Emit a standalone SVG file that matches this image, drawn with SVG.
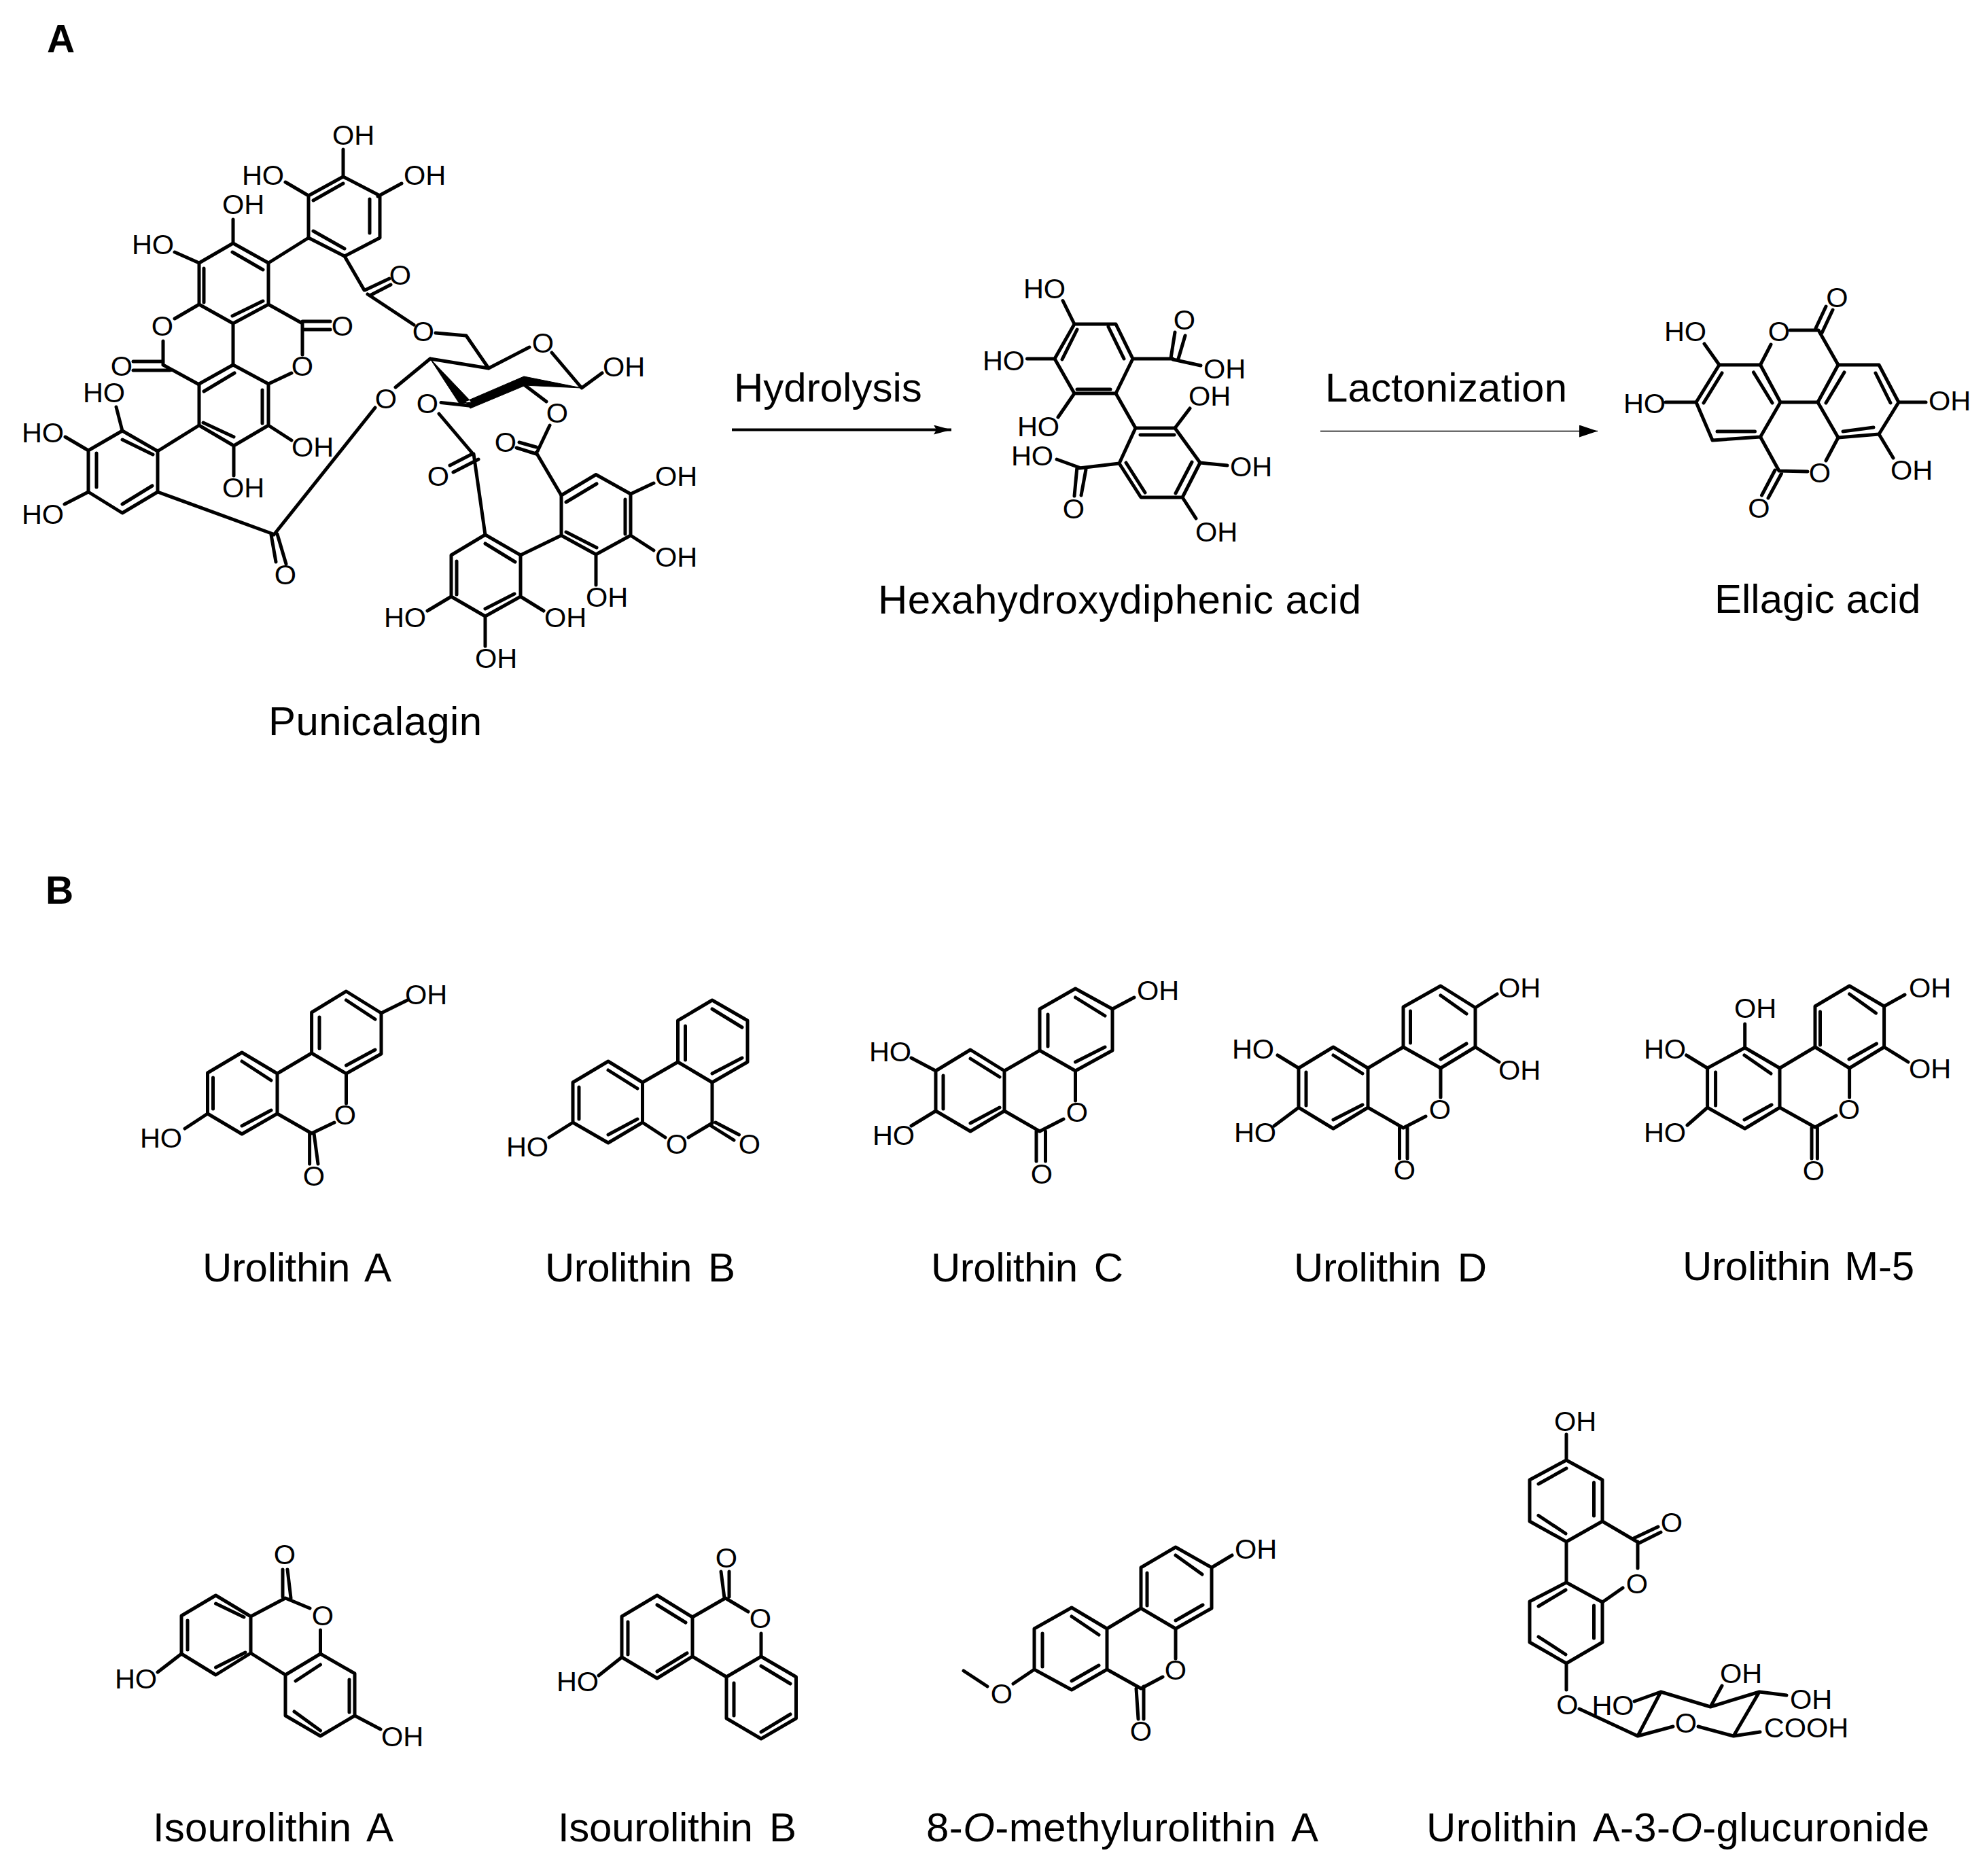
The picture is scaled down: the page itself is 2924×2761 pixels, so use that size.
<svg xmlns="http://www.w3.org/2000/svg" width="2924" height="2761" viewBox="0 0 2924 2761">
<style>
.b{fill:none;stroke:#000;stroke-width:5;stroke-linecap:round;stroke-linejoin:round}
.w{fill:#000;stroke:#000;stroke-width:1;stroke-linejoin:round}
.a{font:41.500px "Liberation Sans",Arial,sans-serif;text-anchor:middle;fill:#000}
.t{font:60px "Liberation Sans",Arial,sans-serif;fill:#000}
.s{word-spacing:8px}
.p{font:bold 57px "Liberation Sans",Arial,sans-serif;fill:#000}
.c{fill:none;stroke:#000}
</style>
<defs>
<marker id="h1" markerUnits="userSpaceOnUse" markerWidth="30" markerHeight="20" refX="26" refY="7" orient="auto"><path d="M0 0L26 7L0 14L4 7Z" fill="#000"/></marker>
<marker id="h2" markerUnits="userSpaceOnUse" markerWidth="30" markerHeight="20" refX="27" refY="9" orient="auto"><path d="M0 0L27 9L0 18Z" fill="#000"/></marker>
</defs>
<rect width="2924" height="2761" fill="#fff"/>
<text class="p" x="69" y="77">A</text>
<text class="p" x="67" y="1330">B</text>

<g id="connectors">
<path class="c" stroke-width="4" d="M1077 632.500H1400" marker-end="url(#h1)"/>
<path class="c" stroke-width="1.500" d="M1943 634.500H2351" marker-end="url(#h2)"/>
</g>
<text class="t" x="1080" y="591" id="label-hydrolysis">Hydrolysis</text>
<text class="t" x="1950" y="591" textLength="356" id="label-lactonization">Lactonization</text>

<g id="punicalagin">
<path class="b" d="M505 260L454 288L454 350L507 377L559 350L559 288ZM461 295L505 270M544 293L544 343M461 340L507 366M505 220L505 260M420 268L454 288M556 289L591 270"/>
<path class="b" d="M343 358L293 387L293 448L343 476L395 448L395 387ZM342 371L387 397M300 395L300 445M342 465L387 443M395 387L454 350M343 323L343 358M257 371L293 387M293 448L257 469M240 502L240 537M196 532L239 532M196 545L250 545M240 537L293 566M395 448L445 476M445 473L486 473M446 485L486 485M445 476L445 522M343 476L343 537"/>
<path class="b" d="M343 537L293 565L293 626L344 656L395 626L395 565ZM300 576L345 549M386 574L386 623M299 622L344 643M395 565L429 549M395 626L429 648M344 656L344 700"/>
<path class="b" d="M180 634L130 663L130 724L180 755L232 724L232 664ZM180 647L225 669M142 667L142 717M180 742L224 715M232 664L293 626M171 599L180 634M96 643L130 663M95 742L130 724M232 724L402 786M399 787L406 827M408 786L421 830M403 787L552 600"/>
<path class="b" d="M507 377L536 427M537 427L573 410M546 434L575 419M541 433L609 478M641 490L686 494L719 542M633 528L719 542L779 511M812 519L856 571L886 549M633 528L582 570M649 592.500L690 597M646 609L696 668M662 685L695 668M667 695L704 676M697 668L714 787M771 566L804 591M809 626L791 664M764 651L789 658M760 659L789 668M789 666L826 729"/>
<path class="w" d="M856 571L771 554L771 567ZM633 528L676 594L694 592ZM771 554L771 568L692 601L685 591Z"/>
<path class="b" d="M826 729L877 698.500L928 727L928 788L877 816L826 788ZM833 739L878 712M920 735L920 786M833 783L878 806M928 727L962 711M928 788L962 810M877 816L877 861M826 788L766 817"/>
<path class="b" d="M714 787L766 817L766 878L714 907L664 878L664 817ZM714 800L758 827M757 874L714 896M672 826L672 875M766 878L800 899M714 907L714 951M664 878L629 899"/>
<g>
<text class="a" x="520" y="213">OH</text><text class="a" x="387" y="272">HO</text><text class="a" x="625" y="272">OH</text>
<text class="a" x="358" y="315">OH</text><text class="a" x="225" y="374">HO</text><text class="a" x="239" y="494">O</text>
<text class="a" x="179" y="553">O</text><text class="a" x="504" y="494">O</text><text class="a" x="445" y="553">O</text>
<text class="a" x="460" y="672">OH</text><text class="a" x="358" y="732">OH</text><text class="a" x="153" y="592">HO</text>
<text class="a" x="63" y="651">HO</text><text class="a" x="63" y="771">HO</text><text class="a" x="420" y="860">O</text>
<text class="a" x="568" y="601">O</text><text class="a" x="589" y="419">O</text><text class="a" x="623" y="502">O</text>
<text class="a" x="799" y="519">O</text><text class="a" x="918" y="554">OH</text><text class="a" x="629" y="608">O</text>
<text class="a" x="645" y="715">O</text><text class="a" x="820" y="622">O</text><text class="a" x="744" y="665">O</text>
<text class="a" x="995" y="715">OH</text><text class="a" x="995" y="834">OH</text><text class="a" x="893" y="893">OH</text>
<text class="a" x="832" y="923">OH</text><text class="a" x="730" y="983">OH</text><text class="a" x="596" y="923">HO</text>
</g>
<text class="t" x="395" y="1082" textLength="314">Punicalagin</text>
</g>

<g id="hexahydroxydiphenic-acid">
<path class="b" d="M1581 477L1642 477L1667 528L1642 579L1581 579L1552 528ZM1631 481L1654 528M1585 485L1563 529M1585 573L1634 573M1564 442.500L1581 477M1511.500 528L1552 528M1581 579L1557 614M1667 528L1726 528M1723 527L1729 489M1734 528L1744 494M1726 529L1767 538M1642 579L1671 630"/>
<path class="b" d="M1671 630L1729 630L1766 681L1740 732L1679 732L1647 682ZM1678 640L1728 640M1754 680L1730 726M1657 681L1685 725M1729 630L1751 601M1766 681L1806 685M1740 732L1760 763M1647 682L1588 689M1555 676L1588 688M1585 687L1581 730M1598 691L1591 729"/>
<text class="a" x="1537" y="439">HO</text><text class="a" x="1477" y="545">HO</text><text class="a" x="1528" y="642">HO</text>
<text class="a" x="1743" y="485">O</text><text class="a" x="1802" y="557">OH</text><text class="a" x="1780" y="597">OH</text>
<text class="a" x="1841" y="701">OH</text><text class="a" x="1790" y="797">OH</text><text class="a" x="1519" y="685">HO</text><text class="a" x="1580" y="763">O</text>
<text class="t" x="1292" y="903" textLength="711">Hexahydroxydiphenic acid</text>
</g>

<g id="ellagic-acid">
<path class="b" d="M2530 537L2590.500 537L2620 592L2590.500 643L2520 648L2496 592ZM2580.500 548L2608 593M2534 549L2507 593M2527 635L2582.500 635M2620 592L2675 592"/>
<path class="b" d="M2705 537L2765 537L2794 592L2765 639L2705 644L2675 592ZM2714 548L2687 593M2760 549L2782 593M2712 635L2757 629"/>
<path class="b" d="M2590.500 537L2606 507M2634 486L2676 486L2705 537M2672 483L2687 451M2681 490L2697 456M2590.500 643L2618 693L2660 694M2687 678L2705 644M2612 692L2592.500 729M2621.500 697L2602 733M2530 537L2508 506M2496 592L2451 592M2794 592L2834 592M2765 639L2786 674"/>
<text class="a" x="2618" y="502">O</text><text class="a" x="2703.500" y="452">O</text><text class="a" x="2678" y="710">O</text><text class="a" x="2588.500" y="762">O</text>
<text class="a" x="2480" y="502">HO</text><text class="a" x="2420" y="608">HO</text><text class="a" x="2869" y="604">OH</text><text class="a" x="2813" y="706">OH</text>
<text class="t" x="2523" y="902">Ellagic acid</text>
</g>

<g id="urolithin-a">
<path class="b" d="M509.500 1459L561 1491L561 1551L509.500 1580L458.600 1550L458.600 1490ZM509.500 1472L552 1500M470 1497L470 1543M509.500 1568L552 1545"/>
<path class="b" d="M356 1549L408 1580L408 1639L356 1669L305.500 1639L305.500 1579ZM356 1562L399 1590M313.500 1586L313.500 1632M356 1657L399 1634M408 1580L458.600 1550M408 1639L458.600 1668L492 1652M509.500 1580L509.500 1624M455.600 1668L455.600 1713M462 1668L468 1713M561 1491L599.500 1472M305.500 1639L272 1661"/>
<text class="a" x="508" y="1655">O</text><text class="a" x="462" y="1745">O</text><text class="a" x="627" y="1478">OH</text><text class="a" x="237" y="1689">HO</text>
<text class="t s" x="298" y="1886" textLength="278">Urolithin A</text>
</g>

<g id="urolithin-b">
<path class="b" d="M1048 1472L1100 1502L1100 1563L1048 1593L997.500 1563L997.500 1502ZM1048 1485L1092 1512M1008.500 1510L1008.500 1560M1048 1580L1092 1557"/>
<path class="b" d="M895 1562L945.500 1593L945.500 1652L895 1682L843 1652L843 1593ZM895 1575L938 1602M852 1600L852 1647M895 1670L938 1647M945.500 1593L997.500 1563M945.500 1652L979 1674M1013 1674L1048 1653M1048 1593L1048 1653M1053 1652L1087.500 1670M1046.500 1657L1080 1678M843 1652L808 1674"/>
<text class="a" x="996" y="1698">O</text><text class="a" x="1103" y="1698">O</text><text class="a" x="776" y="1702">HO</text>
<text class="t s" x="802" y="1886" textLength="280">Urolithin B</text>
</g>

<g id="urolithin-c">
<path class="b" d="M1582.500 1455L1637 1485L1637 1546L1582.500 1576L1530 1546L1530 1485ZM1582.500 1468L1626 1495M1542 1493L1542 1540M1582.500 1563L1626 1541"/>
<path class="b" d="M1428 1545L1478 1576L1478 1635L1428 1665L1377 1635L1377 1576ZM1428 1558L1471 1585M1388 1583L1388 1632M1428 1653L1471 1630M1478 1576L1530 1546M1478 1635L1530 1665L1565 1647M1582.500 1576L1582.500 1620M1525 1665L1525 1709M1538.500 1665L1538.500 1709M1637 1485L1669 1468M1377 1576L1341 1557M1377 1635L1341 1657"/>
<text class="a" x="1585" y="1651">O</text><text class="a" x="1533" y="1742">O</text><text class="a" x="1704" y="1472">OH</text><text class="a" x="1310" y="1562">HO</text><text class="a" x="1315" y="1685">HO</text>
<text class="t s" x="1370" y="1886" textLength="283">Urolithin C</text>
</g>

<g id="urolithin-d">
<path class="b" d="M2120 1451L2171 1483L2171 1541L2120 1572L2065 1541L2065 1482ZM2120 1465L2158 1492M2075.500 1488L2075.500 1535M2120 1559L2158 1536"/>
<path class="b" d="M1962 1541L2013 1572L2013 1630L1962 1661L1911 1630L1911 1572ZM1962 1553L2005 1580M1922 1578L1922 1627M1962 1648L2005 1626M2013 1572L2065 1541M2013 1630L2065 1660L2098 1643M2120 1572L2120 1615M2059.500 1660L2059.500 1705M2071 1660L2071 1705M1911 1572L1880 1553M1911 1630L1875 1657M2171 1483L2203 1463M2171 1541L2206 1563"/>
<text class="a" x="2119" y="1647">O</text><text class="a" x="2067" y="1736">O</text><text class="a" x="1844" y="1558">HO</text><text class="a" x="1847" y="1681">HO</text><text class="a" x="2236" y="1468">OH</text><text class="a" x="2236" y="1589">OH</text>
<text class="t s" x="1904" y="1886" textLength="284">Urolithin D</text>
</g>

<g id="urolithin-m5">
<path class="b" d="M2721.600 1451L2772.600 1481L2772.600 1541L2721.600 1572L2671 1541L2671 1481ZM2721.600 1463L2760.500 1491M2678.500 1489L2678.500 1538M2721 1559L2761.500 1536"/>
<path class="b" d="M2567.700 1542L2619 1572L2619 1630L2567.700 1661L2512.600 1630L2512.600 1572ZM2567 1553L2606 1580M2524.600 1578L2524.600 1627M2567 1648L2607 1626M2619 1572L2671 1541M2619 1630L2671 1659L2702 1642M2721.600 1572L2721.600 1615M2666 1660L2666 1705M2674.400 1660L2674.400 1705M2567.700 1542L2567.700 1507M2512.600 1572L2481.600 1553M2512.600 1630L2483 1656M2772.600 1481L2803 1464M2772.600 1541L2808 1563"/>
<text class="a" x="2721" y="1647">O</text><text class="a" x="2669" y="1737">O</text><text class="a" x="2583" y="1498">OH</text><text class="a" x="2450" y="1558">HO</text><text class="a" x="2450" y="1681">HO</text><text class="a" x="2840" y="1468">OH</text><text class="a" x="2840" y="1587">OH</text>
<text class="t" style="word-spacing:4px" x="2476" y="1884" textLength="341">Urolithin M-5</text>
</g>

<g id="isourolithin-a">
<path class="b" d="M317.500 2348L369 2379L369 2433L317.500 2465L267 2434L267 2378ZM317.500 2360L359 2380M276 2385L276 2428M317.500 2454L361 2432M369 2379L420 2352L456 2367M471.500 2399L471.500 2434M416 2310L416 2350M423 2310L428 2352"/>
<path class="b" d="M471.500 2434L522 2463L522 2525L471.500 2555L420 2525L420 2465ZM435 2474L471.500 2450M514 2472L514 2520M433 2519L471.500 2547M369 2433L420 2465M522 2525L560 2545M267 2434L232 2461"/>
<text class="a" x="475" y="2392">O</text><text class="a" x="419" y="2302">O</text><text class="a" x="592" y="2570">OH</text><text class="a" x="200" y="2485">HO</text>
<text class="t s" x="225" y="2710" textLength="354">Isourolithin A</text>
</g>

<g id="isourolithin-b">
<path class="b" d="M967 2348L1019 2380L1019 2438L967 2470L915 2439L915 2379ZM967 2362L1009 2388M924 2387L924 2435M967 2460L1011 2433M1019 2380L1067.500 2352L1101 2372M1120 2404L1120 2438M1061 2313L1066 2352M1073 2313L1073 2350"/>
<path class="b" d="M1120 2438L1171.500 2468L1171.500 2529L1120 2559L1069 2529L1069 2468ZM1120 2452L1163 2478M1080 2477L1080 2525M1120 2549L1163 2523M1019 2438L1069 2468M915 2439L881 2466"/>
<text class="a" x="1119" y="2396">O</text><text class="a" x="1069" y="2307">O</text><text class="a" x="850" y="2489">HO</text>
<text class="t s" x="821" y="2710" textLength="351">Isourolithin B</text>
</g>

<g id="methylurolithin-a">
<path class="b" d="M1730 2277L1783 2307L1783 2367L1730 2397L1679 2367L1679 2307ZM1730 2289L1769 2317M1688 2315L1688 2363M1730 2385L1770 2362"/>
<path class="b" d="M1577 2366L1629 2397L1629 2457L1577 2487L1522 2457L1522 2397ZM1577 2379L1617 2406M1534 2404L1534 2453M1577 2474L1617 2451M1629 2397L1679 2367M1629 2457L1679 2485L1711 2468M1730 2397L1730 2441M1672 2485L1675 2530M1683 2482L1683 2530M1783 2307L1813 2289M1522 2457L1491 2478M1453 2482L1418 2459"/>
<text class="a" x="1730" y="2472">O</text><text class="a" x="1679" y="2562">O</text><text class="a" x="1848" y="2294">OH</text><text class="a" x="1474" y="2507">O</text>
<text class="t s" x="1363" y="2710" textLength="577">8-<tspan font-style="italic">O</tspan>-methylurolithin A</text>
</g>

<g id="urolithin-a-glucuronide">
<path class="b" d="M2305 2149L2358 2178L2358 2239L2305 2269L2251 2239L2251 2178ZM2264 2184L2305 2161M2345.500 2182L2345.500 2231M2264 2230.500L2304 2257M2305 2111L2305 2149M2358 2239L2409 2269M2404 2264L2440 2247M2410 2272L2444 2255M2410 2269L2410 2308M2388 2337L2358 2358M2305 2269L2305 2329"/>
<path class="b" d="M2305 2329L2358 2358L2358 2417L2305 2448L2251 2417L2251 2357ZM2264 2364L2304 2340M2345.500 2363L2345.500 2411M2264 2409L2304 2435M2305 2448L2305 2487M2324 2515L2410 2555L2444 2490L2517 2512L2589 2490L2551 2555M2410 2555L2462 2541M2499 2541L2551 2555L2590 2549M2444 2490L2405 2504M2517 2512L2534 2481M2589 2490L2629 2495"/>
<text class="a" x="2318" y="2106">OH</text><text class="a" x="2460" y="2255">O</text><text class="a" x="2409" y="2345">O</text><text class="a" x="2306.500" y="2523">O</text><text class="a" x="2481" y="2550">O</text><text class="a" x="2373.500" y="2524">HO</text><text class="a" x="2562" y="2477">OH</text><text class="a" x="2665" y="2515">OH</text><text class="a" x="2658" y="2557">COOH</text>
<text class="t s" x="2099" y="2710" textLength="740">Urolithin A-3-<tspan font-style="italic">O</tspan>-glucuronide</text>
</g>
</svg>
